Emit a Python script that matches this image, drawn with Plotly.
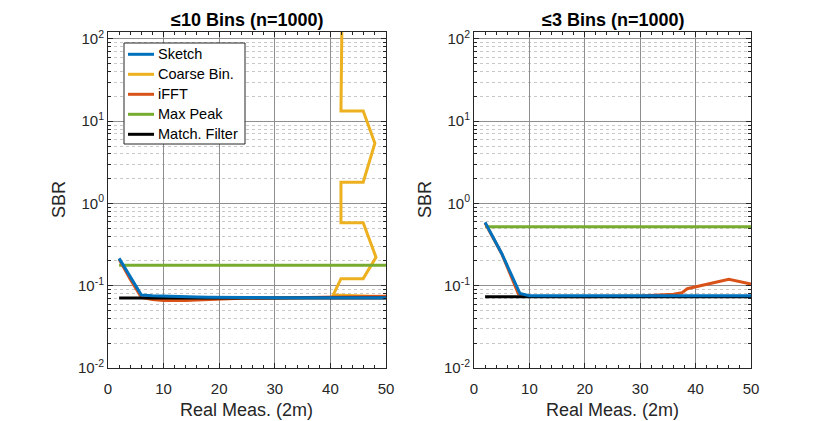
import plotly.graph_objects as go

# ---- data ----
# Left panel: <=10 bins
L_sketch_x = [2, 4, 6, 8, 10, 12, 14, 16, 18, 20, 25, 30, 35, 40, 45, 50]
L_sketch_y = [0.215, 0.127, 0.077, 0.0755, 0.0745, 0.074, 0.0735, 0.073, 0.0725, 0.072, 0.0718, 0.0717, 0.0716, 0.0715, 0.0715, 0.0715]

L_coarse_x = [50, 40.5, 41.9, 45.9, 48.2, 45.9, 41.9, 41.9, 45.9, 48.0, 45.9, 41.9, 42.2]
L_coarse_y = [0.0737, 0.077, 0.122, 0.122, 0.222, 0.585, 0.585, 1.81, 1.81, 5.4, 13.3, 13.3, 1000]

L_ifft_x = [2, 4, 6, 8, 10, 12, 14, 16, 18, 20, 24, 30, 40, 50]
L_ifft_y = [0.21, 0.12, 0.072, 0.068, 0.066, 0.0655, 0.066, 0.067, 0.068, 0.069, 0.0705, 0.071, 0.0725, 0.0745]

L_peak_x = [2, 50]
L_peak_y = [0.178, 0.178]

L_match_x = [2, 50]
L_match_y = [0.071, 0.071]

# Right panel: <=3 bins
R_sketch_x = [2, 5, 8.3, 10, 20, 30, 40, 50]
R_sketch_y = [0.59, 0.247, 0.0805, 0.0756, 0.0756, 0.0756, 0.0756, 0.0756]

R_ifft_x = [2, 5, 8, 10, 20, 30, 36, 37.5, 38.5, 42, 46, 50]
R_ifft_y = [0.58, 0.245, 0.08, 0.0745, 0.0735, 0.075, 0.079, 0.082, 0.092, 0.104, 0.12, 0.105]

R_peak_x = [2, 50]
R_peak_y = [0.52, 0.52]

R_match_x = [2, 50]
R_match_y = [0.0735, 0.0735]

names = ["Sketch", "Coarse Bin.", "iFFT", "Max Peak", "Match. Filter"]
titles = ["≤10 Bins (n=1000)", "≤3 Bins (n=1000)"]
x_ticks = [0, 10, 20, 30, 40, 50]
y_ticks = [0.01, 0.1, 1, 10, 100]
y_ticktext = ["10<sup>-2</sup>", "10<sup>-1</sup>", "10<sup>0</sup>", "10<sup>1</sup>", "10<sup>2</sup>"]

BLUE = "#0072BD"
YEL = "#EDB120"
RED = "#D95319"
GRN = "#77AC30"
BLK = "#000000"
colors = [BLUE, YEL, RED, GRN, BLK]
LW = 3

# page body margin is removed with post_script, so the figure fills the window
W, H, OFF = 830, 421, 0
def px(sx):
    return (sx - OFF) / W
def py(sy):
    return 1 - (sy - OFF) / H

fig = go.Figure()

def add(x, y, name, color, xa, ya):
    fig.add_trace(go.Scatter(x=x, y=y, mode="lines", name=name,
                             line=dict(color=color, width=LW),
                             xaxis=xa, yaxis=ya, showlegend=False,
                             hoverinfo="skip"))

# left (draw order: coarse, peak, ifft, match, sketch on top)
add(L_coarse_x, L_coarse_y, names[1], YEL, "x", "y")
add(L_peak_x, L_peak_y, names[3], GRN, "x", "y")
add(L_ifft_x, L_ifft_y, names[2], RED, "x", "y")
add(L_match_x, L_match_y, names[4], BLK, "x", "y")
add(L_sketch_x, L_sketch_y, names[0], BLUE, "x", "y")
# right
add(R_peak_x, R_peak_y, names[3], GRN, "x2", "y2")
add(R_ifft_x, R_ifft_y, names[2], RED, "x2", "y2")
add(R_match_x, R_match_y, names[4], BLK, "x2", "y2")
add(R_sketch_x, R_sketch_y, names[0], BLUE, "x2", "y2")

FONT = "Liberation Sans"
AX = "#262626"
MAJ = "#8f8f8f"
MIN = "#c8c8c8"

minor_y = [m * 10 ** k for k in range(-2, 3) for m in range(2, 10)]

def xaxis(domain, anchor):
    return dict(domain=domain, anchor=anchor, range=[0, 50], tickvals=x_ticks,
                ticks="inside", ticklen=5, tickcolor=AX, showline=True, linecolor=AX,
                linewidth=1, mirror="allticks", showgrid=True, gridcolor=MAJ, gridwidth=1,
                zeroline=False, tickfont=dict(family=FONT, size=15, color=AX),
                ticklabelstandoff=7,
                minor=dict(dtick=2, ticks="inside", ticklen=3, tickcolor=AX, showgrid=False),
                automargin=False)

def yaxis(domain, anchor):
    return dict(domain=domain, anchor=anchor, type="log", range=[-2, 2.085],
                tickvals=y_ticks, ticktext=y_ticktext,
                ticks="inside", ticklen=5, tickcolor=AX, showline=True, linecolor=AX,
                linewidth=1, mirror="allticks", showgrid=True, gridcolor=MAJ, gridwidth=1,
                zeroline=False, tickfont=dict(family=FONT, size=15, color=AX),
                minor=dict(tickvals=minor_y, ticks="inside", ticklen=3, tickcolor=AX,
                           showgrid=True, gridcolor=MIN, griddash="dot", gridwidth=1),
                automargin=False)

dom_y = [py(368), py(32)]
dom_x1 = [px(108), px(386)]
dom_x2 = [px(474), px(751)]

annotations = []
for t, d in zip(titles, [dom_x1, dom_x2]):
    annotations.append(dict(text="<b>" + t + "</b>", x=(d[0] + d[1]) / 2, y=py(20),
                            xref="paper", yref="paper", showarrow=False,
                            font=dict(family=FONT, size=18, color="#000000"),
                            xanchor="center", yanchor="middle"))
    annotations.append(dict(text="Real Meas. (2m)", x=(d[0] + d[1]) / 2, y=py(410),
                            xref="paper", yref="paper", showarrow=False,
                            font=dict(family=FONT, size=18, color=AX),
                            xanchor="center", yanchor="middle"))
for xp in [59, 425]:
    annotations.append(dict(text="SBR", x=px(xp), y=(dom_y[0] + dom_y[1]) / 2,
                            xref="paper", yref="paper", showarrow=False, textangle=-90,
                            font=dict(family=FONT, size=18, color=AX),
                            xanchor="center", yanchor="middle"))

# legend drawn as a box with line samples and labels
shapes = [dict(type="rect", xref="paper", yref="paper",
               x0=px(124), x1=px(245), y0=py(144), y1=py(43),
               line=dict(color=AX, width=1), fillcolor="white", layer="above")]
for i, (nm, c) in enumerate(zip(names, colors)):
    ry = 54.3 + 20 * i
    shapes.append(dict(type="line", xref="paper", yref="paper",
                       x0=px(128), x1=px(154), y0=py(ry), y1=py(ry),
                       line=dict(color=c, width=LW), layer="above"))
    annotations.append(dict(text=nm, x=px(156), y=py(ry), xref="paper", yref="paper",
                            showarrow=False, xanchor="left", yanchor="middle",
                            font=dict(family=FONT, size=14.5, color="#000000")))

fig.update_layout(
    width=W, height=H,
    margin=dict(l=0, r=0, t=0, b=0),
    paper_bgcolor="white", plot_bgcolor="white",
    xaxis=xaxis(dom_x1, "y"), yaxis=yaxis(dom_y, "x"),
    xaxis2=xaxis(dom_x2, "y2"), yaxis2=yaxis(dom_y, "x2"),
    annotations=annotations,
    shapes=shapes,
    showlegend=False,
)

fig.write_html("out.html", config={"displayModeBar": False},
               post_script="document.body.style.margin='0';document.body.style.overflow='hidden';")
